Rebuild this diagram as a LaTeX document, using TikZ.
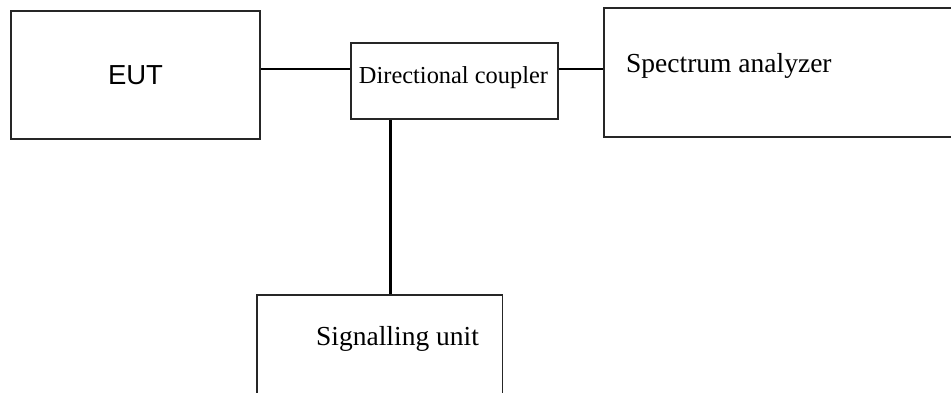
\documentclass[tikz,border=0pt]{standalone}
\usepackage{fontspec}
\setmainfont{Liberation Serif}
\newfontfamily\arialish{Liberation Sans}
\begin{document}
\begin{tikzpicture}[x=1pt,y=-1pt,
  blk/.style={draw=black!85,line width=2pt,rectangle,inner sep=0pt},
  wire/.style={draw=black,line width=2pt},
  bigtxt/.style={inner sep=0pt,font=\fontsize{27.5}{32}\selectfont},
  midtxt/.style={inner sep=0pt,font=\fontsize{24.4}{29}\selectfont}]
\useasboundingbox (0,0) rectangle (951,392);
\clip (0,0) rectangle (951,392);
\node[blk,minimum width=249pt,minimum height=128pt] (eut) at (135.5,74.5) {};
\node[bigtxt,font=\arialish\fontsize{27.5}{32}\selectfont] (eutt) at (135.5,75) {EUT};
\node[blk,minimum width=206.7pt,minimum height=76.3pt] (coup) at (454.3,81) {};
\node[midtxt,anchor=base] (coupt) at (453.5,83) {Directional coupler};
\node[blk,minimum width=356pt,minimum height=128.4pt] (spec) at (782,72.5) {};
\node[bigtxt,anchor=base west] (spect) at (626,72.7) {Spectrum analyzer};
\node[blk,line width=1.5pt,minimum width=245.7pt,minimum height=105pt] (sig) at (379.85,347.5) {};
\node[bigtxt,anchor=base west] (sigt) at (316,345) {Signalling unit};
\coordinate (row) at (0,69.4);
\coordinate (col) at (390,0);
\draw[wire] (eut.east |- row) -- (coup.west |- row);
\draw[wire] (coup.east |- row) -- (spec.west |- row);
\draw[wire,line width=3pt] (coup.south -| col) -- (sig.north -| col);
\end{tikzpicture}
\end{document}
